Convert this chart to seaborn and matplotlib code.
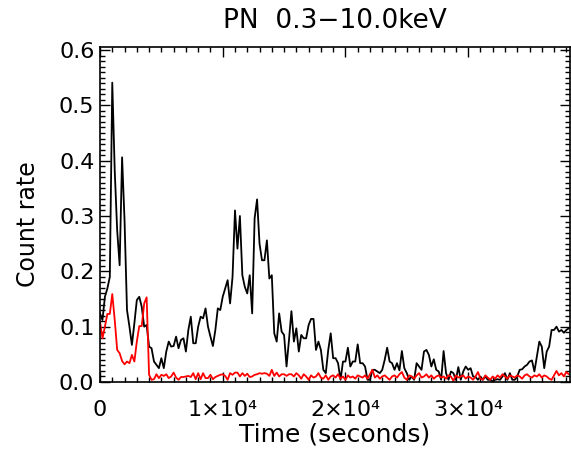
import numpy as np
import pandas as pd
import matplotlib
matplotlib.use("Agg")
import matplotlib.pyplot as plt
import seaborn as sns
from matplotlib.ticker import MultipleLocator, FixedLocator, FixedFormatter

# ---- data (200 s bins) ----
bin_size = 200.0
total_rate = [
    0.124, 0.112, 0.154, 0.169, 0.190, 0.541, 0.382, 0.274, 0.211, 0.406,
    0.292, 0.130, 0.100, 0.067, 0.106, 0.148, 0.154, 0.136, 0.100, 0.103,
    0.064, 0.061, 0.037, 0.031, 0.025, 0.043, 0.025, 0.055, 0.073, 0.064,
    0.065, 0.082, 0.061, 0.076, 0.079, 0.055, 0.094, 0.118, 0.070, 0.070,
    0.100, 0.118, 0.115, 0.133, 0.100, 0.082, 0.065, 0.094, 0.133, 0.130,
    0.154, 0.169, 0.184, 0.142, 0.190, 0.310, 0.241, 0.300, 0.193, 0.172,
    0.160, 0.193, 0.124, 0.296, 0.330, 0.250, 0.220, 0.220, 0.256, 0.187,
    0.193, 0.088, 0.073, 0.124, 0.091, 0.085, 0.028, 0.076, 0.128, 0.073,
    0.097, 0.055, 0.085, 0.079, 0.079, 0.103, 0.114, 0.114, 0.058, 0.073,
    0.058, 0.022, 0.016, 0.058, 0.088, 0.043, 0.043, 0.034, 0.004, 0.037,
    0.037, 0.062, 0.028, 0.037, 0.037, 0.068, 0.034, 0.034, 0.028, 0.004,
    0.004, 0.022, 0.022, 0.019, 0.016, 0.022, 0.040, 0.062, 0.037, 0.034,
    0.022, 0.034, 0.021, 0.056, 0.025, 0.016, 0.004, 0.010, 0.004, 0.034,
    0.028, 0.022, 0.055, 0.058, 0.049, 0.028, 0.041, 0.022, 0.019, 0.004,
    0.056, 0.016, 0.004, 0.019, 0.016, 0.004, 0.027, 0.004, 0.019, 0.028,
    0.022, 0.025, 0.010, 0.009, 0.004, 0.010, 0.004, 0.010, 0.004, 0.004,
    0.001, 0.004, 0.005, 0.004, 0.010, 0.016, 0.004, 0.016, 0.004, 0.004,
    0.010, 0.022, 0.023, 0.028, 0.031, 0.037, 0.039, 0.019, 0.046, 0.073,
    0.064, 0.025, 0.055, 0.064, 0.094, 0.094, 0.100, 0.091, 0.094, 0.089,
    0.094, 0.097,
]
background_rate = [
    0.109, 0.079, 0.100, 0.123, 0.123, 0.159, 0.112, 0.058, 0.052, 0.038,
    0.032, 0.037, 0.034, 0.049, 0.037, 0.073, 0.101, 0.101, 0.142, 0.153,
    0.013, 0.004, 0.005, 0.014, 0.007, 0.013, 0.011, 0.014, 0.007, 0.010,
    0.017, 0.008, 0.004, 0.009, 0.009, 0.010, 0.011, 0.009, 0.016, 0.005,
    0.016, 0.005, 0.016, 0.007, 0.007, 0.013, 0.005, 0.009, 0.011, 0.013,
    0.014, 0.011, 0.004, 0.016, 0.013, 0.017, 0.017, 0.010, 0.016, 0.011,
    0.015, 0.009, 0.010, 0.013, 0.014, 0.016, 0.015, 0.016, 0.015, 0.011,
    0.022, 0.011, 0.017, 0.010, 0.014, 0.014, 0.011, 0.014,
    0.014, 0.010, 0.016, 0.012, 0.006, 0.014, 0.010, 0.004, 0.012, 0.008,
    0.010, 0.016, 0.008, 0.006, 0.012, 0.004, 0.010, 0.012, 0.008, 0.014,
    0.006, 0.010, 0.004, 0.012, 0.008, 0.010, 0.006, 0.012, 0.010, 0.008,
    0.012, 0.006, 0.014, 0.022, 0.008, 0.012, 0.006, 0.010, 0.012, 0.008,
    0.004, 0.010, 0.012, 0.008, 0.014, 0.018, 0.008, 0.004, 0.012, 0.010,
    0.006, 0.012, 0.016, 0.008, 0.010, 0.014, 0.008, 0.012, 0.006, 0.010,
    0.012, 0.008, 0.010, 0.006, 0.012, 0.010, 0.002, 0.012, 0.008, 0.010,
    0.012, 0.006, 0.010, 0.008, 0.004, 0.010, 0.018, 0.006, 0.004, 0.012,
    0.008, 0.004, 0.010, 0.006, 0.012, 0.008, 0.014, 0.010, 0.006, 0.012,
    0.010, 0.008, 0.012, 0.010, 0.006, 0.012, 0.014, 0.010, 0.008, 0.012,
    0.010, 0.014, 0.008, 0.012, 0.010, 0.006, 0.004, 0.012, 0.020, 0.012,
    0.016, 0.010, 0.018, 0.014,
]
x_tick_values = [0, 10000, 20000, 30000]
x_tick_labels = ["0", "1\u00d710\u2074", "2\u00d710\u2074", "3\u00d710\u2074"]
y_tick_values = [0.0, 0.1, 0.2, 0.3, 0.4, 0.5, 0.6]
y_tick_labels = ["0.0", "0.1", "0.2", "0.3", "0.4", "0.5", "0.6"]

time = np.arange(len(total_rate)) * bin_size
df = pd.DataFrame({"time": time, "total": total_rate, "background": background_rate})

# ---- style ----
sns.set_style("ticks")
plt.rcParams["font.family"] = ["DejaVu Sans"]
plt.rcParams["text.color"] = "black"
plt.rcParams["axes.labelcolor"] = "black"
plt.rcParams["xtick.color"] = "black"
plt.rcParams["ytick.color"] = "black"

fig = plt.figure(figsize=(5.71, 4.54), dpi=100)
ax = fig.add_axes([100 / 571, (454 - 382) / 454, 470 / 571, (382 - 47) / 454])

sns.lineplot(data=df, x="time", y="total", ax=ax, color="black", lw=1.3,
             estimator=None, sort=False)
sns.lineplot(data=df, x="time", y="background", ax=ax, color="#ff0000", lw=1.3,
             estimator=None, sort=False)

ax.set_xlim(0, 38300)
ax.set_ylim(0, 0.6054)

ax.xaxis.set_major_locator(FixedLocator(x_tick_values))
ax.xaxis.set_major_formatter(FixedFormatter(x_tick_labels))
ax.xaxis.set_minor_locator(MultipleLocator(1000))
ax.yaxis.set_major_locator(FixedLocator(y_tick_values))
ax.yaxis.set_major_formatter(FixedFormatter(y_tick_labels))
ax.yaxis.set_minor_locator(MultipleLocator(0.01))

ax.tick_params(which="both", direction="in", top=True, right=True, colors="black",
               labelsize=16)
ax.tick_params(which="major", length=7, width=1)
ax.tick_params(which="minor", length=3.5, width=1)
ax.tick_params(axis="x", which="major", pad=13)
ax.tick_params(axis="y", which="major", pad=4)

for s in ax.spines.values():
    s.set_color("black")
    s.set_linewidth(1.2)

ax.set_xlabel("Time (seconds)", fontsize=18, labelpad=2)
ax.set_ylabel("Count rate", fontsize=17)
ax.yaxis.set_label_coords(-0.128, 0.47)
ax.set_title("PN  0.3\u221210.0keV", fontsize=19, pad=14)

fig.savefig("out.png", dpi=100)
